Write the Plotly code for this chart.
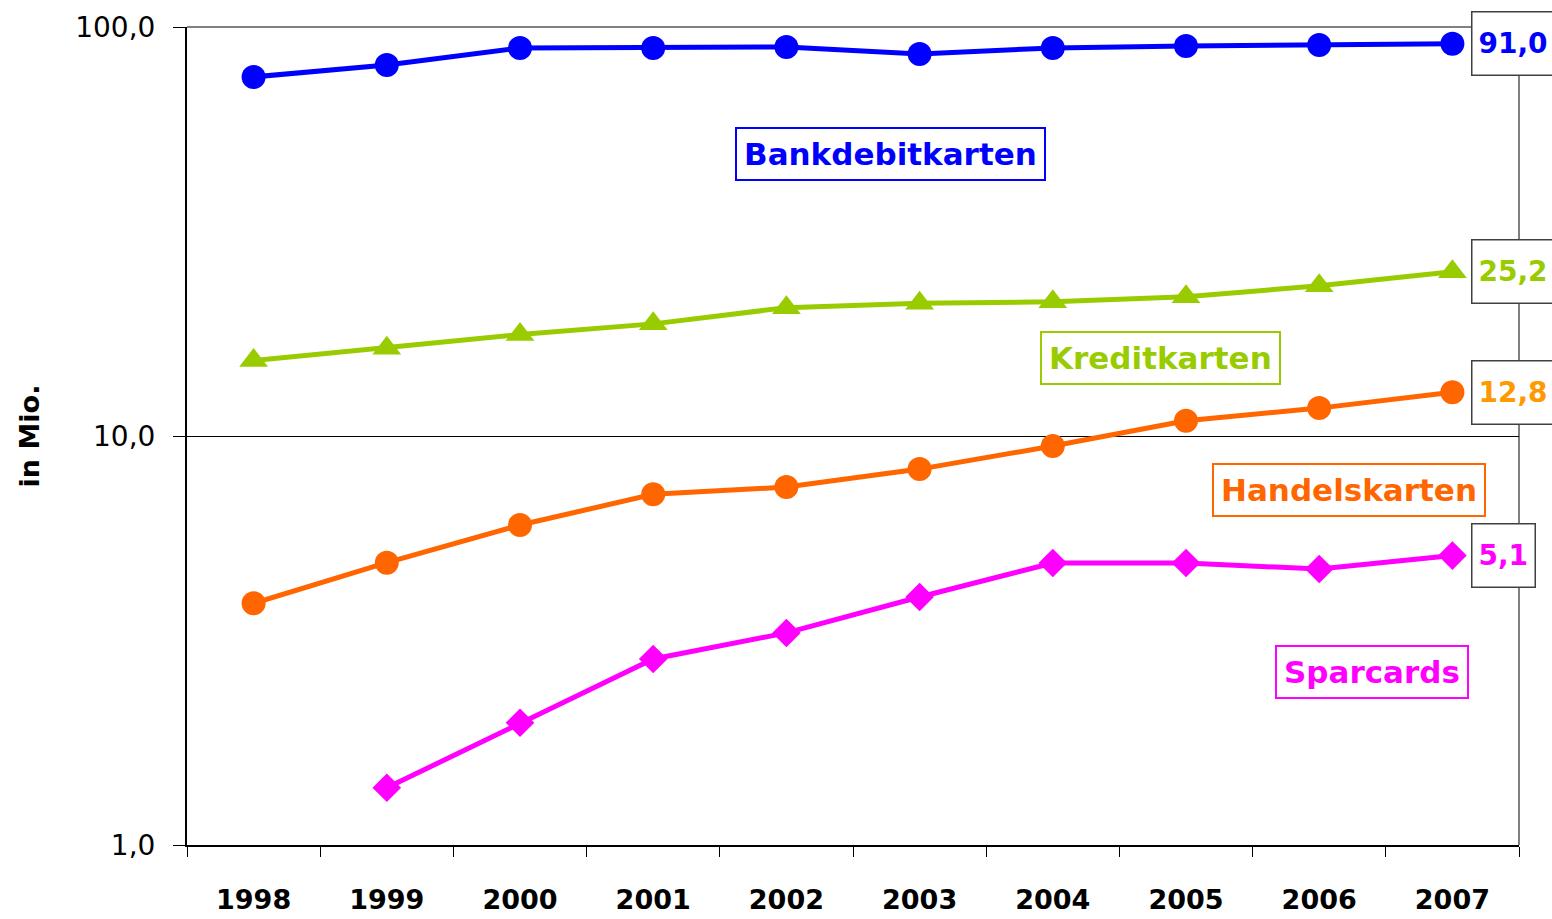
import math
import plotly.graph_objects as go

years = ["1998", "1999", "2000", "2001", "2002", "2003", "2004", "2005", "2006", "2007"]
bankdebit = [75.5, 80.7, 88.9, 88.9, 89.4, 85.9, 88.9, 89.9, 90.4, 91.0]
kredit = [15.3, 16.4, 17.7, 18.8, 20.6, 21.1, 21.3, 21.9, 23.3, 25.2]
handel = [3.9, 4.9, 6.06, 7.2, 7.5, 8.3, 9.45, 10.9, 11.7, 12.8]
spar = [None, 1.38, 1.99, 2.85, 3.3, 4.04, 4.89, 4.89, 4.73, 5.1]

y_tickvals = [1, 10, 100]
y_ticktext = ["1,0", "10,0", "100,0"]

FONT = "DejaVu Sans"
BLUE = "#0000FF"
GREEN = "#99CC00"
ORANGE = "#FF6600"
ORANGE_LABEL = "#FF9900"
MAGENTA = "#FF00FF"

series = [
    ("Bankdebitkarten", bankdebit, BLUE, "circle", 24),
    ("Kreditkarten", kredit, GREEN, "triangle-up", 25),
    ("Handelskarten", handel, ORANGE, "circle", 24),
    ("Sparcards", spar, MAGENTA, "diamond", 22),
]

fig = go.Figure()
for name, vals, color, sym, size in series:
    fig.add_trace(go.Scatter(
        x=years, y=vals, mode="lines+markers", name=name,
        line=dict(color=color, width=5),
        marker=dict(symbol=sym, size=size, color=color),
        connectgaps=False, showlegend=False, cliponaxis=False,
    ))

# value labels at the last point
value_labels = [
    ("91,0", bankdebit[-1], BLUE, 72),
    ("25,2", kredit[-1], GREEN, 72),
    ("12,8", handel[-1], ORANGE_LABEL, 72),
    ("5,1", spar[-1], MAGENTA, 50),
]
for txt, v, col, w in value_labels:
    fig.add_annotation(
        x=(1471 - 187) / 1332, xref="paper", xanchor="left",
        y=math.log10(v), yref="y", yanchor="middle",
        text="<b>%s</b>" % txt, showarrow=False,
        font=dict(family=FONT, size=28, color=col),
        bordercolor="#404040", borderwidth=1.5, bgcolor="white",
        borderpad=6, width=w, height=50, align="left",
    )

# series name labels
name_labels = [
    ("Bankdebitkarten", BLUE, 890, 154),
    ("Kreditkarten", GREEN, 1160, 358),
    ("Handelskarten", ORANGE, 1349, 490),
    ("Sparcards", MAGENTA, 1372, 672),
]
for txt, col, px, py in name_labels:
    fig.add_annotation(
        x=(px - 187) / 1332, xref="paper", xanchor="center",
        y=(845 - py) / 818, yref="paper", yanchor="middle",
        text="<b>%s</b>" % txt, showarrow=False,
        font=dict(family=FONT, size=31, color=col),
        bordercolor=col, borderwidth=2, bgcolor="white", borderpad=7,
    )

# top and right frame lines (gray)
fig.add_shape(type="line", xref="paper", yref="paper", x0=0, x1=1, y0=1, y1=1,
              line=dict(color="#808080", width=2), layer="below")
fig.add_shape(type="line", xref="paper", yref="paper", x0=1, x1=1, y0=0, y1=1,
              line=dict(color="#808080", width=2), layer="below")

fig.update_layout(
    width=1552, height=919,
    margin=dict(l=187, r=33, t=27, b=74, autoexpand=False),
    paper_bgcolor="white", plot_bgcolor="white",
    font=dict(family=FONT, color="black"),
    xaxis=dict(
        type="category", range=[-0.5, 9.5],
        showline=True, linecolor="black", linewidth=2,
        ticks="outside", tickson="boundaries", ticklen=10, tickcolor="black",
        tickfont=dict(family=FONT, size=27, color="black", weight="bold"),
        ticklabelstandoff=30, showgrid=False,
    ),
    yaxis=dict(
        type="log", range=[0, 2],
        tickvals=y_tickvals, ticktext=y_ticktext,
        showline=True, linecolor="black", linewidth=2,
        ticks="outside", ticklen=12, tickcolor="black",
        tickfont=dict(family=FONT, size=28, color="black"),
        ticklabelstandoff=12,
        showgrid=True, gridcolor="black", gridwidth=1,
        zeroline=False,
        title=dict(text="<b>in Mio.</b>", font=dict(family=FONT, size=27, color="black"), standoff=28),
    ),
)

fig.write_html("out.html", post_script="document.body.style.margin='0px';",
               config={"displayModeBar": False})
